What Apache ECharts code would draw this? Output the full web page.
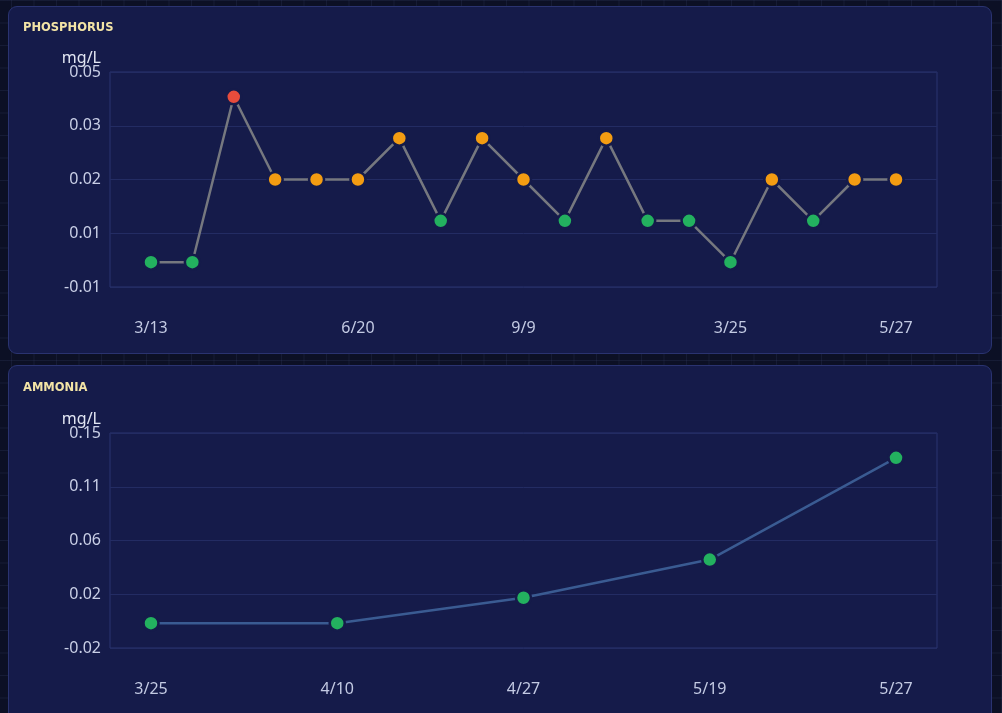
<!doctype html>
<html>
<head>
<meta charset="utf-8">
<title>water quality</title>
<script src="https://cdn.jsdelivr.net/npm/echarts@6/dist/echarts.min.js"></script>
<style>
  html, body { margin: 0; padding: 0; }
  body {
    width: 1002px; height: 713px; overflow: hidden; position: relative;
    background-color: #0c1025;
    background-image:
      linear-gradient(rgba(60, 70, 110, 0.22) 1px, transparent 1px),
      linear-gradient(90deg, rgba(60, 70, 110, 0.22) 1px, transparent 1px);
    background-size: 22.5px 22.5px;
    background-position: 11px 0;
  }
  .panel {
    position: absolute; left: 8px; width: 982px;
    background: #151b4a; border: 1px solid #2a3370; border-radius: 9px;
  }
  #main { position: absolute; left: 0; top: 0; width: 1002px; height: 713px; }
</style>
</head>
<body>
<div class="panel" style="top:6px;height:346px"></div>
<div class="panel" style="top:365px;height:380px"></div>
<div id="main"></div>
<script>
// phosphorus
var pDates = ['3/13', '3/27', '4/10', '5/2', '5/23', '6/20', '7/8', '7/25', '8/14', '9/9',
              '9/30', '10/21', '11/18', '12/16', '3/25', '4/10', '4/27', '5/19', '5/27'];
var pValues = [0, 0, 0.04, 0.02, 0.02, 0.02, 0.03, 0.01, 0.03, 0.02,
               0.01, 0.03, 0.01, 0.01, 0, 0.02, 0.01, 0.02, 0.02];
var pShown = [0, 5, 9, 14, 18];          // which dates get a label
var pTicks = ['-0.01', '0.01', '0.02', '0.03', '0.05'];

// ammonia
var aDates = ['3/25', '4/10', '4/27', '5/19', '5/27'];
var aValues = [0, 0, 0.02, 0.05, 0.13];
var aTicks = ['-0.02', '0.02', '0.06', '0.11', '0.15'];

var UNIT = 'mg/L';
var GREEN = '#23b15f', ORANGE = '#f39c12', RED = '#e74c3c';
var PANEL = '#151b4a';
var FONT = '"Noto Sans", sans-serif';

function levelColor(v) {
  if (v >= 0.04) return RED;
  if (v >= 0.02) return ORANGE;
  return GREEN;
}

function pairs(vals) {
  return vals.map(function (v, i) { return [i, v]; });
}

// y range padded 15% of data span each side, 4 equal steps
function yRange(vals) {
  var lo = Math.min.apply(null, vals), hi = Math.max.apply(null, vals);
  var pad = (hi - lo) * 0.15;
  var min = lo - pad, max = hi + pad;
  return { min: min, max: max, interval: (max - min) / 4 };
}

function xAxisFor(dates, shown, gridIndex) {
  var n = dates.length - 1;
  return {
    type: 'value', gridIndex: gridIndex,
    min: -n * 0.055, max: n * 1.055,
    axisLine: { show: false }, axisTick: { show: false }, splitLine: { show: false },
    axisLabel: {
      customValues: shown,
      margin: 33,
      color: '#c3cae3', fontSize: 16, fontFamily: FONT,
      formatter: function (v) { return dates[Math.round(v)]; }
    }
  };
}

function yAxisFor(vals, ticks, gridIndex) {
  var r = yRange(vals);
  return {
    type: 'value', gridIndex: gridIndex,
    min: r.min, max: r.max, interval: r.interval,
    axisLine: { show: false }, axisTick: { show: false },
    splitLine: { lineStyle: { color: '#232c63', width: 1 } },
    axisLabel: {
      margin: 9, color: '#c9cfe6', fontSize: 16, fontFamily: FONT,
      formatter: function (v, idx) { return ticks[idx]; }
    }
  };
}

function titleFor(text, top) {
  return {
    text: text, left: 23, top: top, padding: 0,
    textStyle: { color: '#f3e4a6', fontSize: 11.5, fontWeight: 'bold', fontFamily: '"DejaVu Sans", sans-serif' }
  };
}

// unit label sitting just above the y axis labels
function unitText(bottom) {
  return {
    type: 'text', right: 1002 - 101, top: bottom - 16,
    style: { text: UNIT, fill: '#e2e6f3', fontSize: 16, fontFamily: FONT }
  };
}

var chart = echarts.init(document.getElementById('main'));
chart.setOption({
  backgroundColor: 'transparent',
  animation: false,
  title: [titleFor('PHOSPHORUS', 22), titleFor('AMMONIA', 382)],
  graphic: [unitText(66), unitText(427)],
  grid: [
    { left: 110, right: 65, top: 72, height: 215, show: true, borderColor: '#2b3470', borderWidth: 1, backgroundColor: 'transparent' },
    { left: 110, right: 65, top: 433, height: 215, show: true, borderColor: '#2b3470', borderWidth: 1, backgroundColor: 'transparent' }
  ],
  xAxis: [xAxisFor(pDates, pShown, 0), xAxisFor(aDates, aDates.map(function (d, i) { return i; }), 1)],
  yAxis: [yAxisFor(pValues, pTicks, 0), yAxisFor(aValues, aTicks, 1)],
  series: [
    {
      name: 'Phosphorus', type: 'line', xAxisIndex: 0, yAxisIndex: 0,
      data: pairs(pValues),
      symbol: 'circle', symbolSize: 15,
      lineStyle: { color: '#76787f', width: 2.5 },
      itemStyle: {
        color: function (p) { return levelColor(p.value[1]); },
        borderColor: PANEL, borderWidth: 2.5
      }
    },
    {
      name: 'Ammonia', type: 'line', xAxisIndex: 1, yAxisIndex: 1,
      data: pairs(aValues),
      symbol: 'circle', symbolSize: 15,
      lineStyle: { color: '#3a5b92', width: 2.5 },
      itemStyle: { color: GREEN, borderColor: PANEL, borderWidth: 2.5 }
    }
  ]
});
</script>
</body>
</html>
